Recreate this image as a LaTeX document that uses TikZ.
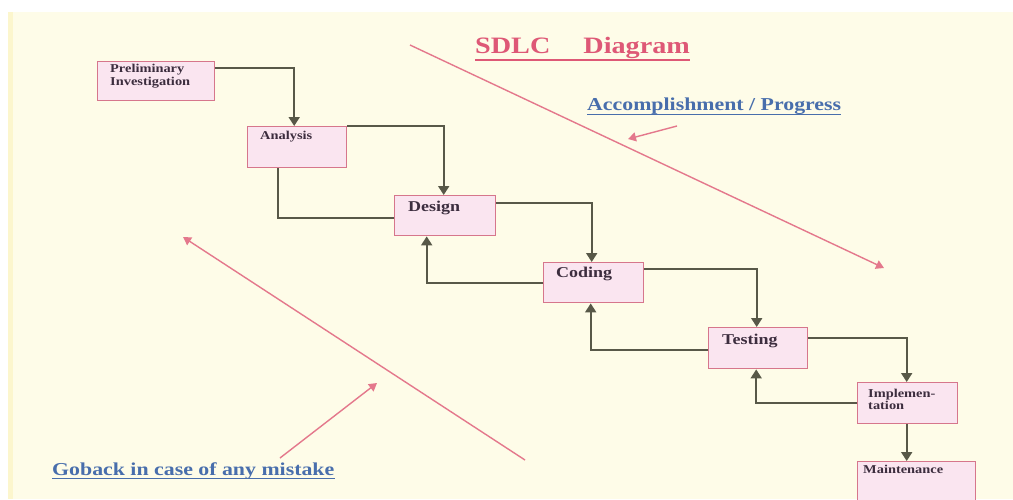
\documentclass[tikz,border=0pt]{standalone}
\usepackage{fontspec}
\setmainfont{Liberation Serif}[FakeStretch=1.2]
\usetikzlibrary{arrows.meta}
\definecolor{bgcream}{RGB}{254,252,232}
\definecolor{bgedge}{RGB}{252,246,205}
\definecolor{boxfill}{RGB}{250,229,240}
\definecolor{boxline}{RGB}{214,118,140}
\definecolor{connc}{RGB}{88,88,72}
\definecolor{redl}{RGB}{228,120,140}
\definecolor{titlec}{RGB}{222,88,118}
\definecolor{bluec}{RGB}{72,110,172}
\definecolor{txtc}{RGB}{60,45,62}
\begin{document}
\begin{tikzpicture}[x=1pt,y=-1pt,
  stage/.style={draw=boxline, line width=1.4pt, fill=boxfill, rectangle, inner sep=0pt, anchor=north west},
  stagetext/.style={anchor=base west, inner sep=0pt, text=txtc, font=\bfseries\fontsize{15}{16}\selectfont},
  smalltext/.style={anchor=north west, inner sep=0pt, text=txtc, align=left, font=\bfseries\fontsize{12}{13}\selectfont},
  conn/.style={draw=connc, line width=1.9pt},
  flow/.style={conn, -{Triangle[width=11pt,length=9pt]}},
  redarrow/.style={draw=redl, line width=1.4pt, -{Triangle[width=9pt,length=8pt]}},
  bluetext/.style={anchor=base west, inner sep=0pt, text=bluec, font=\bfseries\fontsize{18.2}{19}\selectfont},
]
\useasboundingbox (0,0) rectangle (1013,499);
\clip (0,0) rectangle (1013,499);
% background
\fill[white] (0,0) rectangle (1013,499);
\fill[bgcream] (8,12) rectangle (1013,499);
\fill[bgedge] (8,12) rectangle (13,499);

% title
\node[anchor=base west, inner sep=0pt, text=titlec, font=\bfseries\fontsize{23.5}{24}\selectfont] (title) at (475,53) {SDLC\hspace*{33pt}Diagram};
\draw[titlec, line width=1.5pt] ([yshift=-7pt]title.base west) -- ([yshift=-7pt]title.base east);

% stage boxes
\node[stage, minimum width=117pt, minimum height=39pt] (prelim) at (97,61) {};
\node[stage, minimum width=99pt, minimum height=41pt] (analysis) at (247,126) {};
\node[stage, minimum width=101pt, minimum height=40pt] (design) at (394,195) {};
\node[stage, minimum width=100pt, minimum height=40pt] (coding) at (543,262) {};
\node[stage, minimum width=99pt, minimum height=41pt] (testing) at (708,327) {};
\node[stage, minimum width=100pt, minimum height=41pt] (impl) at (857,382) {};
\node[stage, minimum width=118pt, minimum height=50pt] (maint) at (857,461) {};

% stage texts
\node[smalltext] (prelimT) at (110,64) {Preliminary\\Investigation};
\node[smalltext, anchor=base west] (analysisT) at (260,139) {Analysis};
\node[stagetext] (designT) at (408,211) {Design};
\node[stagetext] (codingT) at (556,277) {Coding};
\node[stagetext] (testingT) at (722,344) {Testing};
\node[smalltext, font=\bfseries\fontsize{12}{10.5}\selectfont] (implT) at (868,389) {Implemen-\\tation};
\node[smalltext, anchor=base west] (maintT) at (863,473) {Maintenance};

% forward flow
\draw[flow] ([yshift=-7pt]prelim.north east) -| ([xshift=-3pt]analysis.north);
\draw[flow] (analysis.north east) -| ([xshift=-1.5pt]design.north);
\draw[flow] ([yshift=-8pt]design.north east) -| ([xshift=-2pt]coding.north);
\draw[flow] ([yshift=-7pt]coding.north east) -| ([xshift=-1.5pt]testing.north);
\draw[flow] ([yshift=-11pt]testing.north east) -| ([xshift=-1pt]impl.north);
\draw[flow] ([xshift=-1pt]impl.south) -- ([xshift=-1pt]impl.south |- maint.north);

% feedback
\draw[conn] ([xshift=-19.5pt]analysis.south) |- ([yshift=-2pt]design.west);
\draw[flow] (coding.west) -| ([xshift=-18.5pt]design.south);
\draw[flow] ([yshift=-1.5pt]testing.west) -| ([xshift=-3pt]coding.south);
\draw[flow] (impl.west) -| ([xshift=-2pt]testing.south);

% progress
\node[bluetext] (progress) at (587,110) {Accomplishment / Progress};
\draw[bluec, line width=1.2pt] ([yshift=-4.5pt]progress.base west) -- ([yshift=-4.5pt]progress.base east);
\coordinate (p1) at (410,45);
\coordinate (p2) at (884,268);
\draw[redarrow] (p1) -- (p2);
\coordinate (a1) at (677,126);
\coordinate (a2) at (628,139);
\draw[redarrow] (a1) -- (a2);

% goback
\node[bluetext] (goback) at (52,475) {Goback in case of any mistake};
\draw[bluec, line width=1.2pt] ([yshift=-3.5pt]goback.base west) -- ([yshift=-3.5pt]goback.base east);
\coordinate (g1) at (525,460);
\coordinate (g2) at (183,237);
\draw[redarrow] (g1) -- (g2);
\coordinate (b1) at (280,458);
\coordinate (b2) at (377,383);
\draw[redarrow] (b1) -- (b2);
\end{tikzpicture}
\end{document}
